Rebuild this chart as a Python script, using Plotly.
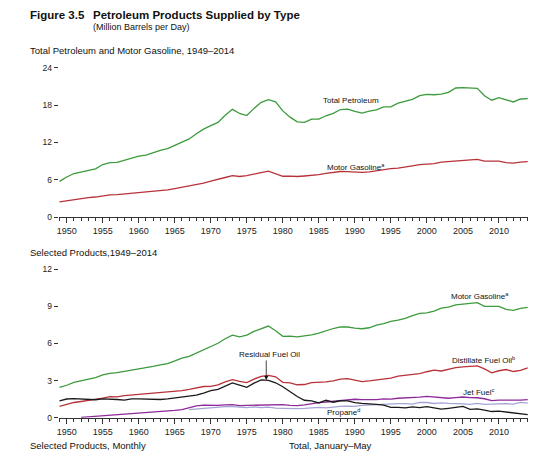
import plotly.graph_objects as go

years = list(range(1949, 2015))

total_petroleum = [5.76, 6.46, 7.02, 7.27, 7.60, 7.76, 8.46, 8.78, 8.81, 9.12, 9.53, 9.80, 9.98, 10.40,
                   10.74, 11.02, 11.51, 12.08, 12.56, 13.39, 14.14, 14.70, 15.21, 16.37, 17.31, 16.65,
                   16.32, 17.46, 18.43, 18.85, 18.51, 17.06, 16.06, 15.30, 15.23, 15.73, 15.73, 16.28,
                   16.67, 17.28, 17.33, 16.99, 16.71, 17.03, 17.24, 17.72, 17.72, 18.31, 18.62, 18.92,
                   19.52, 19.70, 19.65, 19.76, 20.03, 20.73, 20.80, 20.69, 20.68, 19.50, 18.77, 19.18,
                   18.88, 18.49, 18.97, 19.03]

motor_gasoline = [2.46, 2.63, 2.87, 3.01, 3.17, 3.25, 3.46, 3.59, 3.65, 3.74, 3.86, 3.97, 4.02, 4.15,
                  4.28, 4.38, 4.59, 4.82, 4.96, 5.23, 5.49, 5.78, 6.02, 6.38, 6.67, 6.54, 6.67, 6.98,
                  7.18, 7.41, 7.03, 6.58, 6.59, 6.54, 6.62, 6.69, 6.83, 7.03, 7.21, 7.34, 7.33, 7.24,
                  7.19, 7.27, 7.48, 7.60, 7.79, 7.89, 8.02, 8.25, 8.43, 8.47, 8.61, 8.85, 8.94, 9.11,
                  9.16, 9.25, 9.29, 8.99, 9.00, 8.99, 8.75, 8.68, 8.84, 8.92]

distillate = [0.92, 1.08, 1.24, 1.32, 1.39, 1.47, 1.59, 1.71, 1.70, 1.80, 1.85, 1.87, 1.92, 2.01,
              2.06, 2.08, 2.13, 2.20, 2.29, 2.44, 2.53, 2.54, 2.66, 2.91, 3.09, 2.95, 2.85, 3.13,
              3.35, 3.43, 3.31, 2.87, 2.83, 2.67, 2.69, 2.85, 2.87, 2.91, 2.98, 3.12, 3.16, 3.02,
              2.92, 2.98, 3.04, 3.16, 3.21, 3.37, 3.44, 3.46, 3.57, 3.72, 3.85, 3.78, 3.93, 4.06,
              4.12, 4.17, 4.20, 3.95, 3.63, 3.80, 3.90, 3.74, 3.83, 4.04]

residual = [1.36, 1.52, 1.55, 1.53, 1.54, 1.46, 1.53, 1.53, 1.48, 1.43, 1.53, 1.53, 1.50, 1.51,
            1.48, 1.53, 1.61, 1.73, 1.78, 1.83, 2.00, 2.20, 2.30, 2.53, 2.82, 2.64, 2.46, 2.80,
            3.07, 3.02, 2.83, 2.51, 2.09, 1.72, 1.42, 1.37, 1.20, 1.42, 1.26, 1.38, 1.37, 1.23,
            1.16, 1.09, 1.08, 1.02, 0.85, 0.85, 0.80, 0.89, 0.83, 0.91, 0.81, 0.70, 0.77, 0.86,
            0.92, 0.69, 0.72, 0.62, 0.51, 0.54, 0.46, 0.37, 0.32, 0.26]

jet_years = list(range(1952, 2015))
jet_fuel = [0.04, 0.08, 0.12, 0.16, 0.20, 0.24, 0.28, 0.32, 0.37, 0.41, 0.46, 0.50, 0.54, 0.60,
            0.67, 0.82, 0.97, 1.02, 0.99, 1.01, 1.05, 1.06, 0.99, 1.00, 0.99, 1.04, 1.06, 1.08,
            1.07, 1.01, 0.99, 1.05, 1.15, 1.22, 1.28, 1.35, 1.42, 1.47, 1.50, 1.47, 1.45, 1.47,
            1.53, 1.51, 1.58, 1.60, 1.62, 1.67, 1.73, 1.66, 1.61, 1.58, 1.63, 1.68, 1.63, 1.62,
            1.54, 1.39, 1.43, 1.43, 1.40, 1.43, 1.47]

propane_years = list(range(1967, 2015))
propane = [0.66, 0.72, 0.78, 0.79, 0.84, 0.91, 0.90, 0.85, 0.82, 0.88, 0.83, 0.87, 0.78, 0.76,
           0.72, 0.74, 0.76, 0.81, 0.84, 0.81, 0.90, 0.93, 0.95, 0.92, 1.00, 1.04, 1.03, 1.08,
           1.10, 1.15, 1.14, 1.10, 1.24, 1.24, 1.16, 1.21, 1.17, 1.18, 1.13, 1.09, 1.17, 1.08,
           1.10, 1.15, 1.14, 1.11, 1.25, 1.18]

top_yticks = [0, 6, 12, 18, 24]
bottom_yticks = [0, 3, 6, 9, 12]
x_ticks = list(range(1950, 2015, 5))

GREEN = "#3d9a3d"
RED = "#b8323a"
BLACK = "#1a1a1a"
PURPLE = "#8e2a9a"
LAVENDER = "#a4a4d6"
FONT = "Liberation Sans, Arial, sans-serif"

W, H = 550, 461

def px(x):
    return x / W

def py(y):
    return 1 - y / H

fig = go.Figure()

fig.add_trace(go.Scatter(x=years, y=total_petroleum, mode="lines", line=dict(color=GREEN, width=1.3),
                         xaxis="x", yaxis="y"))
fig.add_trace(go.Scatter(x=years, y=motor_gasoline, mode="lines", line=dict(color=RED, width=1.3),
                         xaxis="x", yaxis="y"))

fig.add_trace(go.Scatter(x=years, y=motor_gasoline, mode="lines", line=dict(color=GREEN, width=1.3),
                         xaxis="x2", yaxis="y2"))
fig.add_trace(go.Scatter(x=years, y=distillate, mode="lines", line=dict(color=RED, width=1.3),
                         xaxis="x2", yaxis="y2"))
fig.add_trace(go.Scatter(x=propane_years, y=propane, mode="lines", line=dict(color=LAVENDER, width=1.3),
                         xaxis="x2", yaxis="y2"))
fig.add_trace(go.Scatter(x=jet_years, y=jet_fuel, mode="lines", line=dict(color=PURPLE, width=1.3),
                         xaxis="x2", yaxis="y2"))
fig.add_trace(go.Scatter(x=years, y=residual, mode="lines", line=dict(color=BLACK, width=1.3),
                         xaxis="x2", yaxis="y2"))

xdom = [px(57), px(528)]
xrange_ = [1948.9, 2014.05]

xcommon = dict(domain=xdom, range=xrange_, tickmode="array", tickvals=x_ticks,
               ticks="outside", ticklen=5, tickcolor="#333", tickwidth=1,
               showline=True, linecolor="#333", linewidth=1, showgrid=False, zeroline=False,
               tickfont=dict(size=9, color="#222", family=FONT),
               minor=dict(dtick=1, tick0=1949, ticks="outside", ticklen=3, tickcolor="#333", showgrid=False))

ycommon = dict(ticks="outside", ticklen=4, tickcolor="#333", showline=False, showgrid=False,
               zeroline=False, tickfont=dict(size=8.5, color="#222", family=FONT))

fig.update_layout(
    width=W, height=H, margin=dict(l=0, r=0, t=0, b=0),
    paper_bgcolor="white", plot_bgcolor="white", showlegend=False,
    font=dict(family=FONT, color="#222"),
    xaxis=dict(**xcommon, anchor="y"),
    yaxis=dict(**ycommon, domain=[py(217), py(64)], range=[0, 24],
               tickvals=top_yticks, anchor="x"),
    xaxis2=dict(**xcommon, anchor="y2"),
    yaxis2=dict(**ycommon, domain=[py(422), py(270)], range=[0, 12],
                tickvals=bottom_yticks, anchor="x2"),
)

def paper_text(x, y, text, size, bold=False):
    fig.add_annotation(xref="paper", yref="paper", x=px(x), y=py(y),
                       text=("<b>%s</b>" % text) if bold else text,
                       showarrow=False, xanchor="left", yanchor="middle",
                       font=dict(size=size, family=FONT, color="#111"))

paper_text(26, 10, "Figure 3.5", 11.5, bold=True)
paper_text(89, 10, "Petroleum Products Supplied by Type", 11.5, bold=True)
paper_text(89, 22, "(Million Barrels per Day)", 9)
paper_text(26, 46, "Total Petroleum and Motor Gasoline, 1949–2014", 9.5)
paper_text(26, 253, "Selected Products,1949–2014", 9.5)
paper_text(26, 450, "Selected Products, Monthly", 9.5)
paper_text(286, 450, "Total, January–May", 9.5)

def data_text(xr, yr, x, y, text):
    fig.add_annotation(xref=xr, yref=yr, x=x, y=y, text=text, showarrow=False,
                       xanchor="center", yanchor="middle", font=dict(size=8, family=FONT, color="#111"))

data_text("x", "y", 1989.4, 18.8, "Total Petroleum")
data_text("x", "y", 1990.1, 8.1, "Motor Gasoline<sup>a</sup>")
data_text("x2", "y2", 2007.4, 9.8, "Motor Gasoline<sup>a</sup>")
data_text("x2", "y2", 1978.1, 5.15, "Residual Fuel Oil")
data_text("x2", "y2", 2007.8, 4.68, "Distillate Fuel Oil<sup>b</sup>")
data_text("x2", "y2", 2007.2, 2.05, "Jet Fuel<sup>c</sup>")
data_text("x2", "y2", 1988.4, 0.45, "Propane<sup>d</sup>")

fig.add_annotation(xref="x2", yref="y2", x=1977.7, y=3.05, axref="x2", ayref="y2", ax=1977.7, ay=4.75,
                   text="", showarrow=True, arrowhead=2, arrowsize=1, arrowwidth=0.8, arrowcolor="#111")

fig.write_html("out.html", config={"displayModeBar": False},
               post_script="document.body.style.margin='0px';")
